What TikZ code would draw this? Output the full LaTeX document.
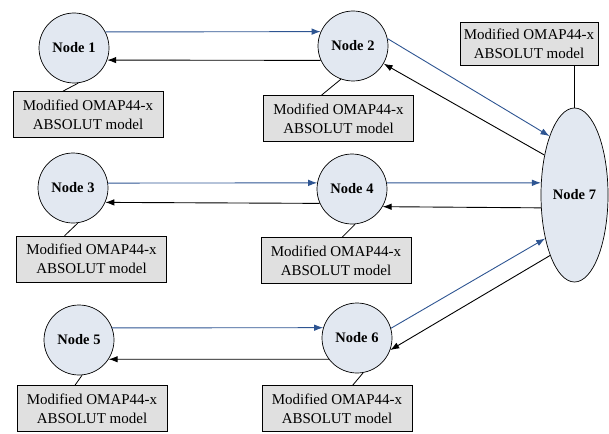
\documentclass[tikz,border=0pt]{standalone}
\usepackage{fontspec}
\setmainfont{Liberation Serif}
\usetikzlibrary{arrows.meta,shapes.geometric}
\definecolor{nodefill}{HTML}{E2E8F1}
\definecolor{boxfill}{HTML}{E0E0E0}
\definecolor{linkblue}{HTML}{2E5592}
\begin{document}
\begin{tikzpicture}[x=1pt,y=-1pt,
  netnode/.style={circle,draw=black,line width=0.7pt,fill=nodefill,minimum size=70pt,inner sep=0pt,
    font=\fontsize{14.5}{17}\selectfont\bfseries},
  hubnode/.style={ellipse,draw=black,line width=0.7pt,fill=nodefill,minimum width=67pt,minimum height=174pt,inner sep=0pt,
    font=\fontsize{14.5}{17}\selectfont\bfseries},
  modelbox/.style={rectangle,draw=black,line width=0.7pt,fill=boxfill,minimum width=150pt,minimum height=46pt,
    inner sep=0pt,align=center,font=\fontsize{15}{19}\selectfont},
  fwd/.style={draw=linkblue,line width=0.9pt,-{Latex[length=9pt,width=6.5pt]}},
  back/.style={draw=black,line width=0.9pt,-{Latex[length=9pt,width=6.5pt]}},
  tie/.style={draw=black,line width=0.8pt}]
\useasboundingbox (0,0) rectangle (609,433);

% network nodes
\node[netnode] (n1) at (74,48) {Node 1};
\node[netnode] (n2) at (353,46) {Node 2};
\node[netnode] (n3) at (73,188) {Node 3};
\node[netnode] (n4) at (352,189) {Node 4};
\node[netnode] (n5) at (79,340) {Node 5};
\node[netnode] (n6) at (357,338) {Node 6};
\node[hubnode] (n7) at (574.5,195) {Node 7};

% model boxes
\node[modelbox] (b1) at (88,114.5) {Modified OMAP44-x\\ABSOLUT model};
\node[modelbox] (b2) at (338.5,118.5) {Modified OMAP44-x\\ABSOLUT model};
\node[modelbox] (b3) at (91.5,259) {Modified OMAP44-x\\ABSOLUT model};
\node[modelbox] (b4) at (336,260.5) {Modified OMAP44-x\\ABSOLUT model};
\node[modelbox] (b5) at (92,408.5) {Modified OMAP44-x\\ABSOLUT model};
\node[modelbox] (b6) at (337,408.5) {Modified OMAP44-x\\ABSOLUT model};
\node[modelbox,minimum width=138pt,minimum height=43pt] (b7) at (529,43.5) {Modified OMAP44-x\\ABSOLUT model};

% box ties
\draw[tie] (b1.137) -- (n1.277);
\draw[tie] (b2.126) -- (n2.250);
\draw[tie] (b3.139) -- (n3.278);
\draw[tie] (b4.75) -- (n4.275);
\draw[tie] (b5.126) -- (n5.275);
\draw[tie] (b6.56) -- (n6.280);
\draw[tie] (n7.north) -- (n7.north |- b7.south);

% links
\draw[fwd] (n1.27) -- (n2.156);
\draw[back] (n2.204) -- (n1.340);
\draw[fwd] (n3.8) -- (n4.170);
\draw[back] (n4.204) -- (n3.336);
\draw[fwd] (n5.20) -- (n6.163);
\draw[back] (n6.217) -- (n5.327);
\draw[fwd] (n2.12) -- (n7.113);
\draw[back] (n7.127) -- (n2.330);
\draw[fwd] (n4.10) -- (n7.160);
\draw[back] (n7.201) -- (n4.330);
\draw[fwd] (n6.16) -- (n7.236);
\draw[back] (n7.248) -- (n6.340);
\end{tikzpicture}
\end{document}
